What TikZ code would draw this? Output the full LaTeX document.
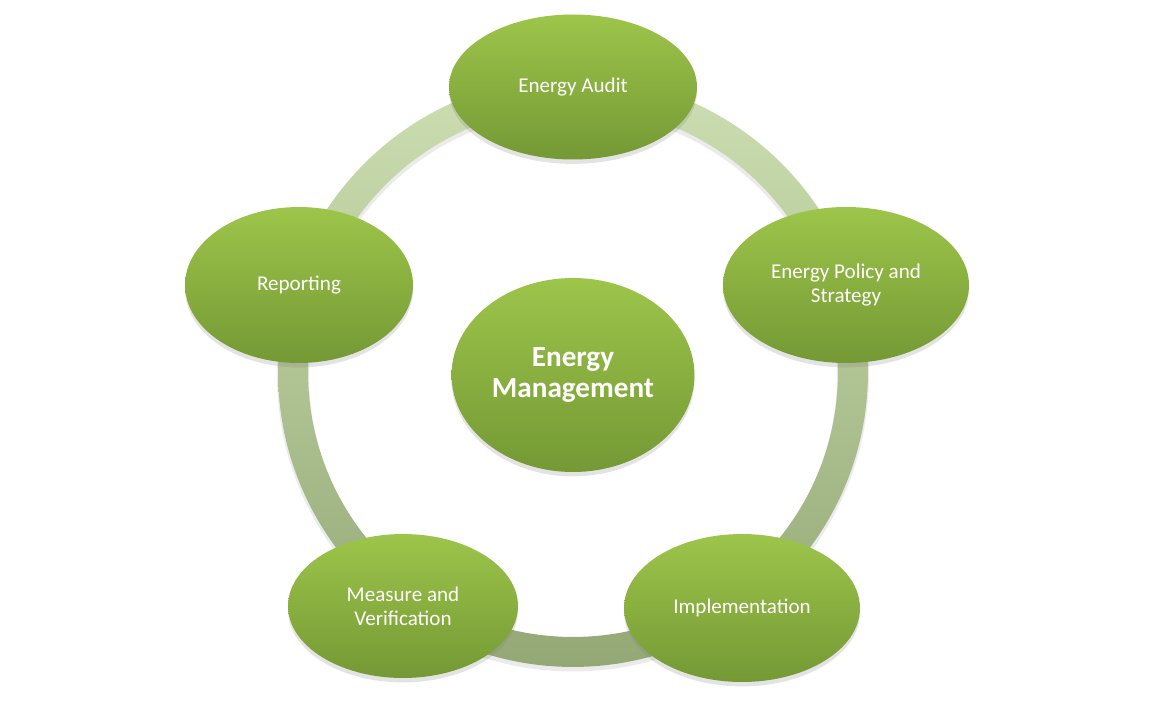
\documentclass[tikz,border=0pt]{standalone}
\usepackage{fontspec}
\setmainfont{Carlito}
\usepackage{tikz}
\usetikzlibrary{shapes.geometric, shadows}
\usepackage{xcolor}
\definecolor{leaftop}{RGB}{157, 197, 74}
\definecolor{leafbottom}{RGB}{116, 153, 53}
\definecolor{ringtop}{RGB}{205, 223, 178}
\definecolor{ringbottom}{RGB}{148, 168, 118}

\begin{document}
\begin{tikzpicture}[x=0.02cm, y=-0.02cm,
  stage/.style={ellipse, inner sep=0pt, top color=leaftop, bottom color=leafbottom,
    text=white, align=center, font=\fontsize{12}{13.6}\selectfont,
    drop shadow={opacity=0.22, shadow xshift=0pt, shadow yshift=-2.5pt}},
  hub/.style={stage, font=\fontsize{16.6}{18}\selectfont\bfseries}]

  \useasboundingbox (0,0) rectangle (1155,720);

  % Cycle ring
  \coordinate (mid) at (573,372);
  \fill[black, opacity=0.08, even odd rule] ([yshift=-2pt]mid) circle (5.92cm) ([yshift=-2pt]mid) circle (5.28cm);
  \shade[top color=ringtop, bottom color=ringbottom, even odd rule] (mid) circle (5.9cm) (mid) circle (5.3cm);

  % Centre
  \node[hub, minimum width=4.86cm, minimum height=3.88cm] (mgmt) at (573,375) {Energy\\Management};

  % Stages
  \node[stage, minimum width=4.96cm, minimum height=2.9cm] (audit) at (573,87) {Energy Audit};
  \node[stage, minimum width=4.92cm, minimum height=3.12cm] (policy) at (846,285) {Energy Policy and\\Strategy};
  \node[stage, minimum width=4.72cm, minimum height=2.96cm] (impl) at (742,608) {Implementation};
  \node[stage, minimum width=4.6cm, minimum height=2.88cm] (measure) at (403,606) {Measure and\\Verification};
  \node[stage, minimum width=4.56cm, minimum height=3.12cm] (report) at (299,285) {Reporting};

\end{tikzpicture}
\end{document}
